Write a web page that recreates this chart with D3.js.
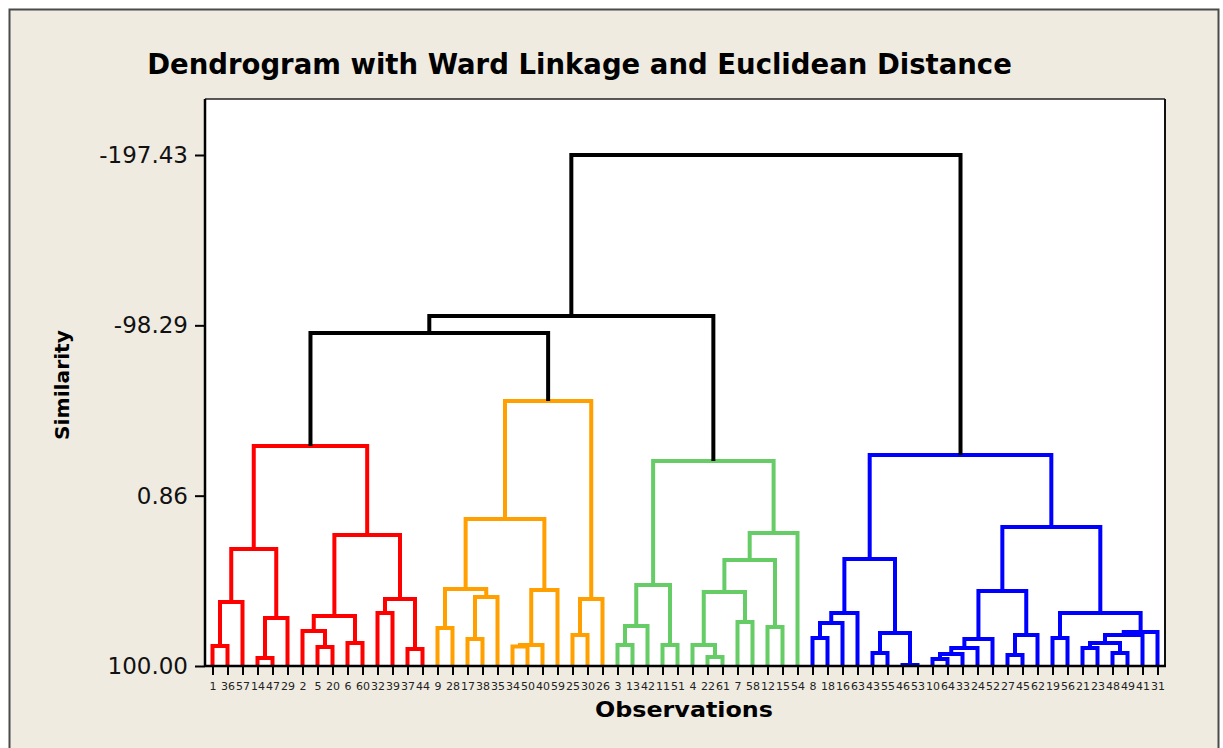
<!DOCTYPE html>
<html><head><meta charset="utf-8">
<script src="https://cdn.jsdelivr.net/npm/d3@7"></script>
<style>body{margin:0;background:#fff;} svg{display:block;}</style>
</head><body>
<svg id="chart" width="1223" height="748"></svg>
<script>
// ---- DATA ----
const leafOrder = [1,36,57,14,47,29,2,5,20,6,60,32,39,37,44,9,28,17,38,35,34,50,40,59,25,30,26,3,13,42,11,51,4,22,61,7,58,12,15,54,8,18,16,63,43,55,46,53,10,64,33,24,52,27,45,62,19,56,21,23,48,49,41,31];
// merges: [left child, right child, similarity]; numbers = observations, "mK" = merge K
const merges = [
  [1,36,88.36],["m0",57,62.75],[14,47,95.34],["m2",29,72.06],["m1","m3",31.90],
  [5,20,88.94],[2,"m5",79.63],[6,60,86.61],["m6","m7",70.90],[32,39,69.15],
  [37,44,90.11],["m9","m10",61.00],["m8","m11",23.75],["m4","m12",-28.05],
  [9,28,77.88],[17,38,84.28],["m15",35,59.84],["m14","m16",55.18],[34,50,88.65],
  ["m18",40,87.78],["m19",59,55.76],["m17","m20",14.44],[25,30,81.96],["m22",26,61.00],
  ["m21","m23",-54.25],
  ["m13","m24",-93.83],
  [3,13,87.78],["m26",42,76.72],[11,51,87.78],["m27","m28",52.85],[22,61,94.76],
  [4,"m30",87.78],[7,58,74.39],["m31","m32",56.93],[12,15,77.30],["m33","m34",38.30],
  ["m35",54,22.59],["m29","m36",-19.32],
  ["m25","m37",-103.72],
  [8,18,83.70],["m39",16,74.97],["m40",63,69.15],[43,55,92.43],[46,53,99.42],
  ["m42","m43",80.79],["m41","m44",37.72],[10,64,95.93],["m46",33,93.02],["m47",24,89.52],
  ["m48",52,84.28],[27,45,93.60],["m50",62,81.96],["m49","m51",56.35],[19,56,83.70],
  [21,23,89.52],[48,49,92.43],["m54","m55",86.61],["m56",41,81.96],["m57",31,80.21],
  ["m53","m58",69.15],["m52","m59",19.09],["m45","m60",-22.81],
  ["m38","m61",-197.43]
];
const yTicks = [-197.43, -98.29, 0.86, 100.00];
const clusterCount = 4;
const clusterColors = ["#FF0000", "#FF9F00", "#66CC66", "#0000FF"];
const linkColor = "#000000";
const titleText = "Dendrogram with Ward Linkage and Euclidean Distance";
const xLabel = "Observations";
const yLabel = "Similarity";

// ---- LAYOUT ----
const svg = d3.select("#chart");
const P = {left:205, right:1165, top:99, bottom:666};

svg.append("rect").attr("x",0).attr("y",0).attr("width",1223).attr("height",748).attr("fill","#fff");
svg.append("rect").attr("x",9.5).attr("y",9.5).attr("width",1209).attr("height",760)
  .attr("fill","#EFEBE1").attr("stroke","#4a4a4a").attr("stroke-width",2);
svg.append("rect").attr("x",P.left).attr("y",P.top).attr("width",P.right-P.left).attr("height",P.bottom-P.top)
  .attr("fill","#fff");

const x = d3.scalePoint().domain(leafOrder.map(String)).range([P.left, P.right]).padding(0.5);
const y = d3.scaleLinear().domain([d3.max(yTicks), d3.min(yTicks)]).range([P.bottom, 155]);

// compute node positions
const nodes = merges.map(() => null);
function info(c){
  if (typeof c === "number") return {x: x(String(c)), s: 100, leaf:true};
  return nodes[+c.slice(1)];
}
merges.forEach((m,i) => {
  const a = info(m[0]), b = info(m[1]);
  nodes[i] = {x:(a.x+b.x)/2, s:m[2], a:m[0], b:m[1], color:null};
});
// colors: top (clusterCount-1) merges are black
const byHeight = d3.range(merges.length).sort((i,j)=>merges[i][2]-merges[j][2]);
const blackSet = new Set(byHeight.slice(0, clusterCount-1));
const clusterRoots = [];
blackSet.forEach(i => {
  [nodes[i].a, nodes[i].b].forEach(c => {
    if (typeof c === "string" && !blackSet.has(+c.slice(1))) clusterRoots.push(+c.slice(1));
  });
});
clusterRoots.sort((i,j)=>nodes[i].x-nodes[j].x);
function paint(i,col){
  nodes[i].color = col;
  [nodes[i].a, nodes[i].b].forEach(c => { if (typeof c === "string") paint(+c.slice(1), col); });
}
clusterRoots.forEach((r,k)=>paint(r, clusterColors[k % clusterColors.length]));
blackSet.forEach(i => nodes[i].color = linkColor);

const g = svg.append("g");
nodes.forEach(n => {
  const a = info(n.a), b = info(n.b);
  const p = d3.path();
  p.moveTo(a.x, y(a.s)); p.lineTo(a.x, y(n.s)); p.lineTo(b.x, y(n.s)); p.lineTo(b.x, y(b.s));
  g.append("path").attr("d", p.toString()).attr("fill","none").attr("stroke", n.color)
   .attr("stroke-width",4).attr("stroke-linejoin","miter");
});

// frame lines
svg.append("line").attr("x1",P.left).attr("x2",P.right).attr("y1",P.top).attr("y2",P.top).attr("stroke","#222").attr("stroke-width",1.5);
svg.append("line").attr("x1",P.right).attr("x2",P.right).attr("y1",P.top).attr("y2",P.bottom).attr("stroke","#111").attr("stroke-width",2);
svg.append("line").attr("x1",P.left).attr("x2",P.left).attr("y1",P.top).attr("y2",P.bottom+1).attr("stroke","#000").attr("stroke-width",2.5);
svg.append("line").attr("x1",P.left).attr("x2",P.right+1).attr("y1",P.bottom).attr("y2",P.bottom).attr("stroke","#000").attr("stroke-width",2.5);

// axes
const yAxis = svg.append("g").attr("transform",`translate(${P.left},0)`)
  .call(d3.axisLeft(y).tickValues(yTicks).tickFormat(d=>d.toFixed(2)).tickSize(10).tickPadding(7));
yAxis.select(".domain").remove();
yAxis.selectAll("line").attr("stroke","#000").attr("stroke-width",2);
yAxis.selectAll("text").attr("font-family","DejaVu Sans").attr("font-size",23).attr("fill","#111");

const xAxis = svg.append("g").attr("transform",`translate(0,${P.bottom})`)
  .call(d3.axisBottom(x).tickSize(9).tickPadding(7).tickSizeOuter(0));
xAxis.select(".domain").remove();
xAxis.selectAll("line").attr("stroke","#000").attr("stroke-width",2);
xAxis.selectAll("text").attr("font-family","DejaVu Sans").attr("font-size",11).attr("fill","#222");

// titles
const t = svg.append("text").attr("x",579.5).attr("y",74).attr("text-anchor","middle")
  .attr("font-family","DejaVu Sans").attr("font-weight","bold").attr("font-size",26).attr("fill","#000").text(titleText);
const tw = t.node().getComputedTextLength();
t.attr("font-size", 26*865/tw);

svg.append("text").attr("x",684).attr("y",717).attr("text-anchor","middle")
  .attr("font-family","DejaVu Sans").attr("font-weight","bold").attr("font-size",21)
  .attr("textLength",178).attr("lengthAdjust","spacingAndGlyphs").attr("fill","#000").text(xLabel);
svg.append("text").attr("transform","translate(69,385) rotate(-90)").attr("text-anchor","middle")
  .attr("font-family","DejaVu Sans").attr("font-weight","bold").attr("font-size",20)
  .attr("textLength",110).attr("lengthAdjust","spacingAndGlyphs").attr("fill","#000").text(yLabel);
</script>
</body></html>
